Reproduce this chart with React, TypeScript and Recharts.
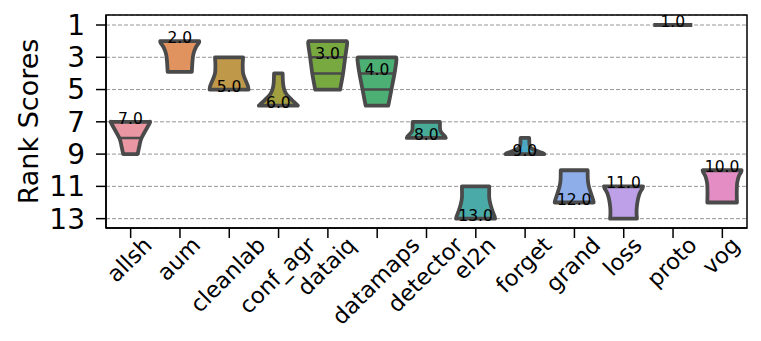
import React from "react";
import { BarChart, Bar, XAxis, YAxis, CartesianGrid, ReferenceArea, Label } from "recharts";

// methods on the x axis
const categories = [
  "allsh", "aum", "cleanlab", "conf_agr", "dataiq", "datamaps", "detector",
  "el2n", "forget", "grand", "loss", "proto", "vog",
];

// rank range covered by each violin (cut = 0)
const lows = [7, 2, 3, 4, 2, 3, 7, 11, 8, 10, 11, 1, 10];
const highs = [9, 3.9, 5, 6, 5, 6, 8, 13, 9, 12, 13, 1, 12];

// number written on each violin
const medianLabels = [7, 2, 5, 6, 3, 4, 8, 13, 9, 12, 11, 1, 10];

// inner quartile lines that are visible
const innerLines: number[][] = [[8], [], [], [], [3, 4], [4, 5], [], [], [], [], [], [], []];

// violin outline: [rank, relative half width]
const profiles: [number, number][][] = [
  [[7, 1], [7.1, 0.98], [8, 0.57], [8.5, 0.46], [9, 0.37]],
  [[2, 1], [2.1, 0.98], [2.4, 0.82], [2.8, 0.7], [3.3, 0.65], [3.9, 0.62]],
  [[3, 0.72], [3.5, 0.7], [4, 0.72], [4.4, 0.84], [4.75, 0.96], [5, 1]],
  [[4, 0.22], [4.6, 0.24], [5, 0.3], [5.3, 0.42], [5.65, 0.7], [5.85, 0.88], [6, 1]],
  [[2, 0.98], [2.15, 1], [3, 0.9], [4, 0.79], [5, 0.64]],
  [[3, 0.98], [3.15, 1], [4, 0.9], [5, 0.74], [6, 0.58]],
  [[7, 0.7], [7.5, 0.71], [7.7, 0.8], [7.88, 0.94], [8, 1]],
  [[11, 0.7], [11.7, 0.7], [12.1, 0.76], [12.5, 0.86], [12.85, 0.97], [13, 1]],
  [[8, 0.22], [8.45, 0.24], [8.65, 0.35], [8.8, 0.6], [8.92, 0.88], [9, 1]],
  [[10, 0.69], [10.6, 0.7], [11, 0.75], [11.4, 0.85], [11.8, 0.96], [12, 1]],
  [[11, 1], [11.12, 0.97], [11.4, 0.84], [11.8, 0.74], [12.3, 0.68], [12.7, 0.67], [13, 0.69]],
  [[1, 1]],
  [[10, 1], [10.12, 0.97], [10.4, 0.85], [10.8, 0.77], [11.4, 0.75], [12, 0.76]],
];

const fills = [
  "#ea96a3", "#e0925f", "#c0984a", "#a29f40", "#78a940", "#4caf74", "#47ab97",
  "#4aaaa8", "#4ba7c3", "#8daee8", "#bea0e8", "#9a9a9a", "#e48dc4",
];

const yTicks = [1, 3, 5, 7, 9, 11, 13];

const data = categories.map((name, i) => ({ name, range: [lows[i], highs[i]] }));

const EDGE = "#4a4a4a";
const FONT = "DejaVu Sans";

let ctx: CanvasRenderingContext2D | null = null;
const textWidth = (s: string, fs: number) => {
  if (!ctx) ctx = document.createElement("canvas").getContext("2d");
  if (!ctx) return s.length * fs * 0.6;
  ctx.font = `${fs}px "${FONT}"`;
  return ctx.measureText(s).width;
};

const crSegment = (pts: number[][]) => {
  let d = "";
  for (let k = 0; k < pts.length - 1; k++) {
    const p0 = pts[Math.max(k - 1, 0)];
    const p1 = pts[k];
    const p2 = pts[k + 1];
    const p3 = pts[Math.min(k + 2, pts.length - 1)];
    const c1 = [p1[0] + (p2[0] - p0[0]) / 6, p1[1] + (p2[1] - p0[1]) / 6];
    const c2 = [p2[0] - (p3[0] - p1[0]) / 6, p2[1] - (p3[1] - p1[1]) / 6];
    d += ` C${c1[0]},${c1[1]} ${c2[0]},${c2[1]} ${p2[0]},${p2[1]}`;
  }
  return d;
};

const widthAt = (prof: [number, number][], v: number) => {
  for (let k = 0; k < prof.length - 1; k++) {
    const [a, wa] = prof[k];
    const [b, wb] = prof[k + 1];
    if (v >= a && v <= b) return wa + ((v - a) / (b - a)) * (wb - wa);
  }
  return prof[prof.length - 1][1];
};

const LABEL_FS = 15.5;

const ViolinShape = (props: any) => {
  const { x, y, width, height, index } = props;
  const lo = lows[index];
  const hi = highs[index];
  const top = Math.min(y, y + height);
  const h = Math.abs(height);
  const cx = x + width / 2;
  const half = width / 2;
  const toY = (v: number) => (hi === lo ? top : top + ((v - lo) / (hi - lo)) * h);
  const prof = profiles[index];
  const label = medianLabels[index].toFixed(1);

  if (prof.length === 1) {
    return (
      <g>
        <line x1={cx - half} x2={cx + half} y1={top} y2={top} stroke={EDGE} strokeWidth={4} />
        <text x={cx} y={top - 3} textAnchor="middle" dominantBaseline="central" fontSize={LABEL_FS} fontFamily={FONT} fill="#000">
          {label}
        </text>
      </g>
    );
  }

  const right = prof.map(([v, w]) => [cx + w * half, toY(v)]);
  const left = prof.map(([v, w]) => [cx - w * half, toY(v)]).reverse();
  const d =
    `M${cx - prof[0][1] * half},${right[0][1]} L${right[0][0]},${right[0][1]}` +
    crSegment(right) +
    ` L${left[0][0]},${left[0][1]}` +
    crSegment(left) +
    " Z";

  return (
    <g>
      <path d={d} fill={fills[index]} stroke={EDGE} strokeWidth={3.8} strokeLinejoin="round" />
      {innerLines[index].map((v) => {
        const w = widthAt(prof, v) * half;
        return <line key={v} x1={cx - w} x2={cx + w} y1={toY(v)} y2={toY(v)} stroke={EDGE} strokeWidth={2.5} />;
      })}
      <text x={cx} y={toY(medianLabels[index]) - 3} textAnchor="middle" dominantBaseline="central" fontSize={LABEL_FS} fontFamily={FONT} fill="#000">
        {label}
      </text>
    </g>
  );
};

const XTick = (props: any) => {
  const { x, y, payload } = props;
  const fs = 22.5;
  const s = String(payload.value);
  const w = textWidth(s, fs);
  const A = 0.76 * fs;
  const D = 0.24 * fs;
  const ax = x + (w + A - D) / (2 * Math.SQRT2);
  const ay = y - 3.5 + A / Math.SQRT2;
  return (
    <text x={ax} y={ay} textAnchor="end" transform={`rotate(-45 ${ax} ${ay})`} fontSize={fs} fontFamily={FONT} fill="#000">
      {s}
    </text>
  );
};

const App = () => {
  return (
    <div>
      <style>{`body{margin:0;background:#fff}`}</style>
      <BarChart
        width={761}
        height={341}
        data={data}
        margin={{ top: 15, right: 14, bottom: 13, left: 0 }}
        barCategoryGap="10%"
      >
        <CartesianGrid vertical={false} stroke="#8a8a8a" strokeDasharray="4 2" strokeWidth={0.9} />
        <XAxis
          dataKey="name"
          type="category"
          height={100}
          interval={0}
          tickSize={10}
          tickMargin={0}
          tick={<XTick />}
          axisLine={{ stroke: "#000", strokeWidth: 1.5 }}
          tickLine={{ stroke: "#000", strokeWidth: 1.5 }}
        />
        <YAxis
          type="number"
          domain={[0.38, 13.58]}
          reversed
          allowDataOverflow
          ticks={yTicks}
          interval={0}
          width={106}
          tickSize={10}
          tickMargin={11}
          tick={{ fontSize: 28, fill: "#000", fontFamily: FONT }}
          axisLine={{ stroke: "#000", strokeWidth: 1.5 }}
          tickLine={{ stroke: "#000", strokeWidth: 1.5 }}
        >
          <Label
            content={(p: any) => {
              const vb = p.viewBox || { y: 15, height: 213 };
              const cy = vb.y + vb.height / 2;
              return (
                <text x={28} y={cy} transform={`rotate(-90 28 ${cy})`} textAnchor="middle" dominantBaseline="central" fontSize={27} fontFamily={FONT} fill="#000">
                  Rank Scores
                </text>
              );
            }}
          />
        </YAxis>
        <Bar dataKey="range" shape={<ViolinShape />} isAnimationActive={false} />
        <ReferenceArea y1={0.38} y2={13.58} fill="none" fillOpacity={0} stroke="#000" strokeWidth={1.5} ifOverflow="visible" />
      </BarChart>
    </div>
  );
};

export default App;
